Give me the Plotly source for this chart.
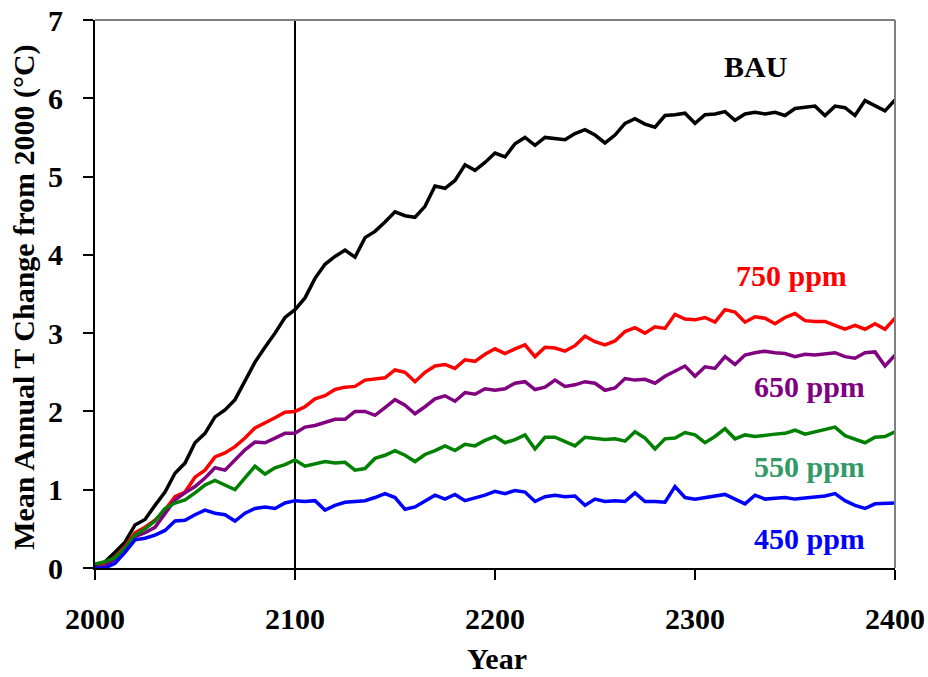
import plotly.graph_objects as go

years = list(range(2000, 2401, 5))

bau = [0.02, 0.08, 0.2, 0.33, 0.55, 0.62, 0.8, 0.97, 1.21, 1.34, 1.6, 1.72, 1.93, 2.02, 2.15, 2.4, 2.63, 2.82, 3.0, 3.2, 3.3,
       3.45, 3.7, 3.88, 3.98, 4.06, 3.97, 4.22, 4.3, 4.42, 4.55, 4.5, 4.48, 4.62, 4.88, 4.85, 4.95, 5.15, 5.08, 5.18, 5.3,
       5.25, 5.42, 5.5, 5.4, 5.5, 5.48, 5.47, 5.55, 5.6, 5.53, 5.43, 5.53, 5.68, 5.74, 5.67, 5.63, 5.78, 5.79, 5.81, 5.68,
       5.79, 5.8, 5.83, 5.72, 5.8, 5.82, 5.8, 5.82, 5.78, 5.87, 5.89, 5.9, 5.78, 5.9, 5.88, 5.78, 5.97, 5.9, 5.84, 5.98]

ppm750 = [0.0, 0.04, 0.14, 0.27, 0.45, 0.52, 0.61, 0.74, 0.91, 0.97, 1.16, 1.25, 1.42, 1.47, 1.55, 1.66, 1.79, 1.85, 1.92, 1.99, 2.0,
          2.06, 2.16, 2.2, 2.28, 2.31, 2.32, 2.4, 2.41, 2.43, 2.53, 2.5, 2.38, 2.5, 2.58, 2.6, 2.55, 2.66, 2.64, 2.73, 2.8,
          2.74, 2.8, 2.85, 2.7, 2.82, 2.81, 2.77, 2.84, 2.96, 2.89, 2.85, 2.9, 3.02, 3.07, 3.0, 3.08, 3.06, 3.24, 3.18, 3.17,
          3.2, 3.14, 3.3, 3.27, 3.14, 3.21, 3.19, 3.12, 3.2, 3.25, 3.16, 3.15, 3.15, 3.1, 3.05, 3.1, 3.05, 3.12, 3.05, 3.19]

ppm650 = [0.0, 0.02, 0.12, 0.25, 0.4, 0.45, 0.52, 0.7, 0.87, 0.96, 1.04, 1.15, 1.28, 1.25, 1.38, 1.51, 1.61, 1.6, 1.66, 1.72, 1.72,
          1.8, 1.82, 1.86, 1.9, 1.9, 2.0, 2.0, 1.95, 2.05, 2.15, 2.08, 1.97, 2.06, 2.16, 2.2, 2.13, 2.24, 2.22, 2.29, 2.27,
          2.29, 2.36, 2.38, 2.28, 2.31, 2.4, 2.32, 2.34, 2.38, 2.36, 2.27, 2.3, 2.42, 2.4, 2.41, 2.36, 2.45, 2.52, 2.58, 2.45,
          2.57, 2.55, 2.7, 2.6, 2.72, 2.75, 2.77, 2.75, 2.74, 2.7, 2.73, 2.72, 2.74, 2.75, 2.7, 2.68, 2.75, 2.76, 2.58, 2.72]

ppm550 = [0.05, 0.08, 0.13, 0.25, 0.42, 0.5, 0.6, 0.76, 0.83, 0.87, 0.96, 1.06, 1.12, 1.06, 1.0, 1.15, 1.3, 1.2, 1.28, 1.32, 1.38,
          1.3, 1.33, 1.36, 1.34, 1.35, 1.25, 1.27, 1.4, 1.44, 1.5, 1.44, 1.36, 1.45, 1.5, 1.56, 1.5, 1.58, 1.56, 1.63, 1.68,
          1.6, 1.64, 1.7, 1.52, 1.67, 1.67, 1.62, 1.56, 1.67, 1.66, 1.64, 1.65, 1.62, 1.74, 1.66, 1.52, 1.65, 1.66, 1.73, 1.7,
          1.6, 1.68, 1.78, 1.65, 1.7, 1.68, 1.7, 1.71, 1.72, 1.76, 1.71, 1.74, 1.76, 1.8, 1.69, 1.65, 1.6, 1.67, 1.68, 1.74]

ppm450 = [0.0, 0.0, 0.06, 0.2, 0.36, 0.38, 0.42, 0.48, 0.6, 0.61, 0.68, 0.74, 0.7, 0.68, 0.6, 0.7, 0.76, 0.78, 0.76, 0.83, 0.86,
          0.85, 0.86, 0.74, 0.8, 0.84, 0.85, 0.86, 0.9, 0.95, 0.9, 0.75, 0.78, 0.85, 0.93, 0.88, 0.94, 0.86, 0.89, 0.93, 0.98,
          0.95, 0.99, 0.97, 0.85, 0.91, 0.93, 0.91, 0.92, 0.8, 0.88, 0.85, 0.86, 0.85, 0.96, 0.85, 0.85, 0.84, 1.04, 0.9, 0.88,
          0.9, 0.92, 0.94, 0.88, 0.82, 0.93, 0.88, 0.89, 0.9, 0.88, 0.89, 0.91, 0.92, 0.95, 0.86, 0.8, 0.76, 0.82, 0.82, 0.83]

series_names = ["BAU", "750 ppm", "650 ppm", "550 ppm", "450 ppm"]
series_values = [bau, ppm750, ppm650, ppm550, ppm450]
line_colors = ["#000000", "#FF0000", "#800080", "#008000", "#0000FF"]
label_colors = ["#000000", "#FF0000", "#800080", "#339966", "#0000FF"]
label_pos = [(2330, 6.4), (2348, 3.73), (2357, 2.32), (2357, 1.3), (2357, 0.38)]

x_ticks = [2000, 2100, 2200, 2300, 2400]
y_ticks = [0, 1, 2, 3, 4, 5, 6, 7]
marker_year = 2100
x_title = "Year"
y_title = "Mean Annual T Change from 2000 (°C)"

FONT = "Liberation Serif, Times New Roman, serif"
FS = 30

fig = go.Figure()
for name, vals, col in zip(series_names, series_values, line_colors):
    fig.add_trace(go.Scatter(x=years, y=vals, mode="lines", name=name,
                             line=dict(color=col, width=3.5), showlegend=False))

for name, (lx, ly), col in zip(series_names, label_pos, label_colors):
    fig.add_annotation(x=lx, y=ly, text=name, showarrow=False,
                       font=dict(family=FONT, size=FS, color=col, weight="bold"),
                       xanchor="center", yanchor="middle")

# axis titles
fig.add_annotation(x=0.5025, y=-0.165, xref="paper", yref="paper", text=x_title,
                   showarrow=False, xanchor="center", yanchor="middle",
                   font=dict(family=FONT, size=FS, color="black", weight="bold"))
fig.add_annotation(x=-0.089, y=0.4945, xref="paper", yref="paper", text=y_title,
                   showarrow=False, xanchor="center", yanchor="middle", textangle=-90,
                   font=dict(family=FONT, size=FS, color="black", weight="bold"))

# vertical marker line at 2100
fig.add_shape(type="line", x0=marker_year, x1=marker_year, y0=0, y1=7,
              xref="x", yref="y", line=dict(color="black", width=2), layer="below")
# gray top / right frame
fig.add_shape(type="line", x0=0, x1=1, y0=1, y1=1, xref="paper", yref="paper",
              line=dict(color="#808080", width=2))
fig.add_shape(type="line", x0=1, x1=1, y0=0, y1=1, xref="paper", yref="paper",
              line=dict(color="#808080", width=2))

fig.update_layout(
    width=928, height=677,
    margin=dict(l=95, r=33, t=20, b=109, autoexpand=False),
    plot_bgcolor="white", paper_bgcolor="white",
    font=dict(family=FONT, size=FS, color="black", weight="bold"),
    xaxis=dict(range=[2000, 2400], tickvals=x_ticks, ticks="outside", ticklen=10,
               tickwidth=2, tickcolor="black", showline=True, linecolor="black", linewidth=2,
               showgrid=False, zeroline=False, ticklabelstandoff=13, automargin=False,
               tickfont=dict(family=FONT, size=FS, color="black", weight="bold")),
    yaxis=dict(range=[0, 7], tickvals=y_ticks, ticks="outside", ticklen=10,
               tickwidth=2, tickcolor="black", showline=True, linecolor="black", linewidth=2,
               showgrid=False, zeroline=False, ticklabelstandoff=14, automargin=False,
               tickfont=dict(family=FONT, size=FS, color="black", weight="bold")),
)

fig.write_html("out.html")
